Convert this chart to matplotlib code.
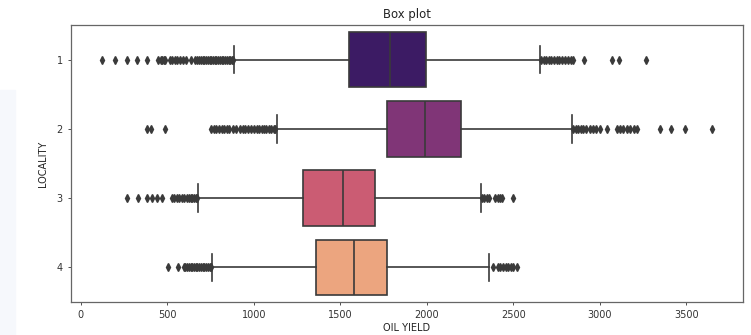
import colorsys

import matplotlib as mpl
import numpy as np

mpl.use("Agg")
import matplotlib.pyplot as plt  # noqa: E402
from matplotlib.patches import Rectangle  # noqa: E402

# box statistics (OIL YIELD per LOCALITY)
localities = ["1", "2", "3", "4"]
q1 = [1548, 1769, 1285, 1362]
medians = [1785, 1990, 1515, 1577]
q3 = [1994, 2198, 1702, 1769]
whisker_lo = [885, 1135, 679, 760]
whisker_hi = [2654, 2837, 2312, 2362]

fliers_1 = [121, 196, 267, 323, 385, 450, 462, 472, 479, 490, 519, 530, 545,
            558, 572, 594, 610, 635, 660, 673, 685, 695, 705, 715, 725, 735,
            745, 755, 765, 775, 785, 795, 805, 815, 825, 835, 845, 855, 865,
            875, 882,
            2662, 2675, 2690, 2705, 2720, 2735, 2750, 2765, 2780, 2800, 2815,
            2830, 2846, 2910, 3067, 3111, 3264]
fliers_2 = [381, 408, 485, 756, 770, 785, 800, 817, 830, 846, 860, 881, 900,
            923, 937, 952, 968, 985, 1000, 1020, 1033, 1045, 1058, 1072, 1087,
            1100, 1115, 1125,
            2845, 2860, 2875, 2890, 2905, 2920, 2940, 2960, 2980, 3000, 3039,
            3097, 3115, 3135, 3155, 3175, 3195, 3212, 3346, 3413, 3490, 3650]
fliers_3 = [269, 333, 385, 413, 442, 471, 529, 540, 555, 570, 585, 600, 615,
            625, 635, 645, 655, 665, 673,
            2320, 2330, 2345, 2360, 2394, 2410, 2423, 2433, 2500]
fliers_4 = [504, 562, 596, 605, 615, 625, 635, 645, 655, 665, 675, 685, 695,
            705, 715, 725, 735, 745, 755,
            2381, 2413, 2425, 2440, 2455, 2470, 2485, 2500, 2519]
fliers = [fliers_1, fliers_2, fliers_3, fliers_4]

EDGE = "#3a3a3a"


def desaturate(rgb, prop=0.75):
    h, l, s = colorsys.rgb_to_hls(*rgb)
    return colorsys.hls_to_rgb(h, l, s * prop)


cmap = plt.get_cmap("magma")
colors = [desaturate(cmap(v)[:3]) for v in np.linspace(0, 1, len(localities) + 2)[1:-1]]

stats = []
for i, name in enumerate(localities):
    stats.append({
        "label": name,
        "q1": q1[i], "med": medians[i], "q3": q3[i],
        "whislo": whisker_lo[i], "whishi": whisker_hi[i],
        "fliers": np.array(fliers[i]),
    })

fig = plt.figure(figsize=(7.51, 3.35), dpi=100)
# faint page strip at the left edge of the screenshot
fig.patches.append(Rectangle((0, 0), 15 / 751, 0.73, transform=fig.transFigure,
                             color="#f6f8fc", zorder=0))
ax = fig.add_axes([71 / 751, 33 / 335, (743 - 71) / 751, (302 - 25) / 335])

positions = np.arange(len(localities))
line = dict(color=EDGE, linewidth=1.2)
bp = ax.bxp(stats, positions=positions, widths=0.8, vert=False, patch_artist=True,
            boxprops=dict(edgecolor=EDGE, linewidth=1.2),
            medianprops=line, whiskerprops=line, capprops=line,
            flierprops=dict(marker="d", markersize=4.0, markerfacecolor=EDGE,
                            markeredgecolor=EDGE, linestyle="none"))
for patch, c in zip(bp["boxes"], colors):
    patch.set_facecolor(c)

all_vals = np.concatenate([np.array(f) for f in fliers])
lo, hi = all_vals.min(), all_vals.max()
pad = 0.05 * (hi - lo)
ax.set_xlim(lo - pad, hi + pad)
ax.set_ylim(len(localities) - 0.5, -0.5)
ax.set_yticks(positions)
ax.set_yticklabels(localities)
ax.set_xticks([0, 500, 1000, 1500, 2000, 2500, 3000, 3500])

ax.tick_params(labelsize=7, length=2.5, width=0.6, colors="#333333")
for s in ax.spines.values():
    s.set_color("#666666")
    s.set_linewidth(0.9)
ax.set_title("Box plot", fontsize=8.4, color="#222222", pad=5)
ax.set_xlabel("OIL YIELD", fontsize=7, color="#222222", labelpad=2)
ax.set_ylabel("LOCALITY", fontsize=7, color="#222222", labelpad=6)

fig.savefig("out.png", dpi=100)
plt.close(fig)
